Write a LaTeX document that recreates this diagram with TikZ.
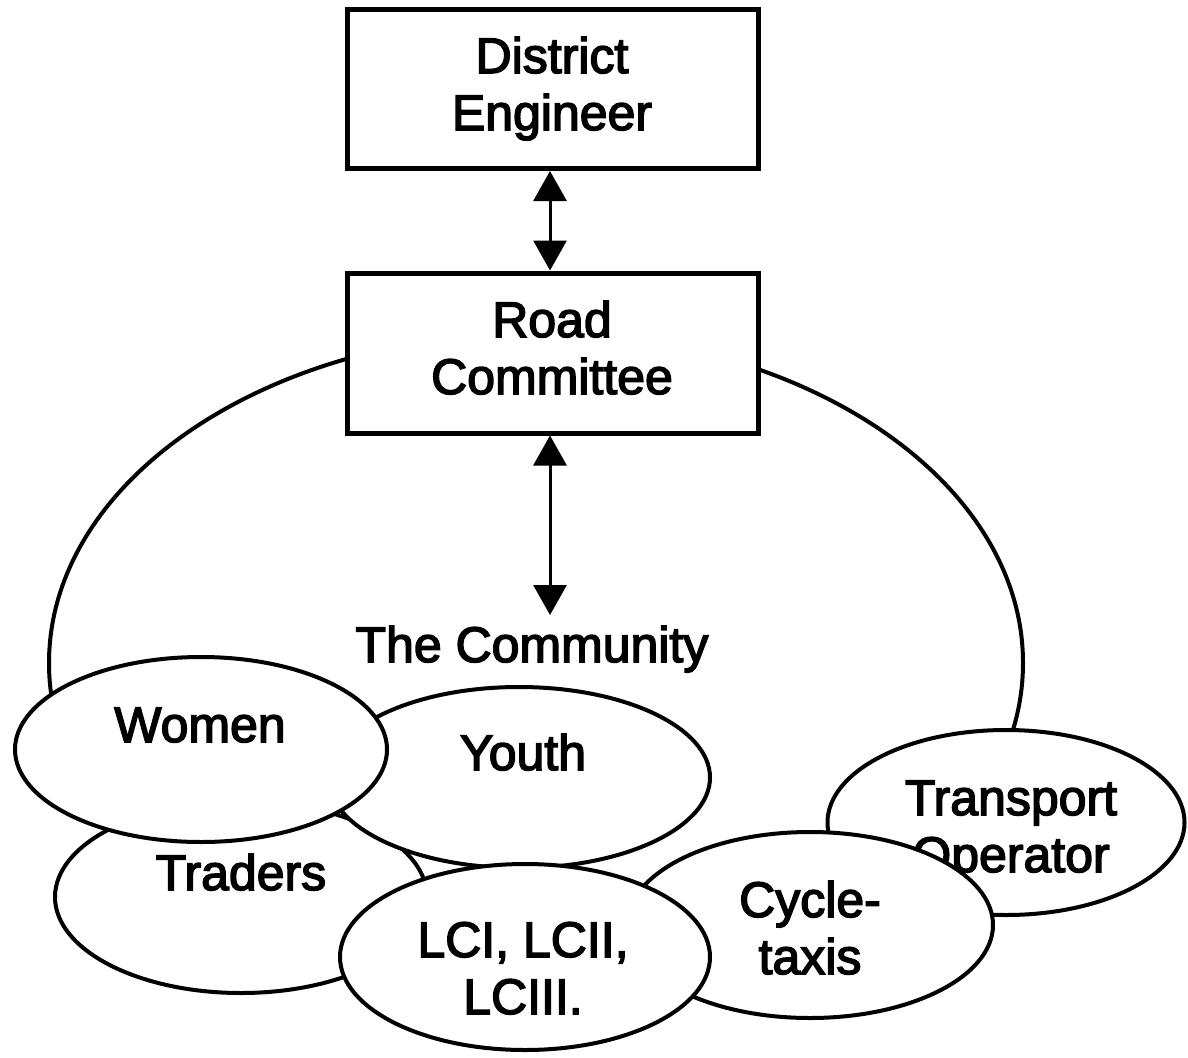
\documentclass[tikz,border=0pt]{standalone}
\usepackage{fontspec}
\setmainfont{Liberation Sans}
\newfontfamily\lblfont{Liberation Sans}[FakeBold=3]
\usetikzlibrary{shapes.geometric,arrows.meta}
\newcommand\stacktwo[2]{\begin{tabular}[t]{@{}c@{}}#1\\#2\end{tabular}}
\begin{document}
\begin{tikzpicture}[x=1pt,y=-1pt,
  lbl/.style={font=\lblfont\fontsize{50}{57}\selectfont, inner sep=0pt, anchor=base},
  boxn/.style={draw, line width=5pt, fill=white, minimum width=411pt, minimum height=159pt, inner sep=0pt},
  oval/.style={draw, ellipse, line width=4pt, fill=white, inner sep=0pt},
  link/.style={line width=3pt, {Triangle[length=30pt,width=33pt]}-{Triangle[length=30pt,width=33pt]}}]
\fill[white] (0,0) rectangle (1188,1057);
\useasboundingbox (0,0) rectangle (1188,1057);
% community ring
\node[oval, fill=none, minimum width=974pt, minimum height=660pt] (ring) at (536,663) {};
% boxes
\node[boxn] (de) at (552.5,89) {};
\node[boxn, minimum height=160pt] (rc) at (552.5,353) {};
\node[lbl] (deT) at (552,73) {\stacktwo{District}{Engineer}};
\node[lbl] (rcT) at (552,337) {\stacktwo{Road}{Committee}};
\coordinate (tip) at (550,615);
\draw[link] (de.south -| tip) -- (rc.north -| tip);
\draw[link] (rc.south -| tip) -- (tip);
\node[lbl] (commT) at (532,662) {The Community};
% groups
\node[oval, minimum width=357pt, minimum height=185pt] (trans) at (1006,822.5) {};
\node[lbl] (transT) at (1011,815) {\stacktwo{Transport}{Operator}};
\node[oval, minimum width=366pt, minimum height=186pt] (cycle) at (810,925) {};
\node[lbl] (cycleT) at (810,917) {\stacktwo{Cycle-}{taxis}};
\node[oval, minimum width=372pt, minimum height=192pt] (traders) at (241,897) {};
\node[lbl] (tradersT) at (241,890) {Traders};
\node[oval, minimum width=382pt, minimum height=181pt] (youth) at (519,777.5) {};
\node[lbl] (youthT) at (523,770) {Youth};
\node[oval, minimum width=372pt, minimum height=185pt] (women) at (201,749.5) {};
\node[lbl] (womenT) at (200,742) {Women};
\node[oval, minimum width=370pt, minimum height=186pt] (lc) at (525,957) {};
\node[lbl] (lcT) at (523,957) {\stacktwo{LCI, LCII,}{LCIII.}};
\end{tikzpicture}
\end{document}
